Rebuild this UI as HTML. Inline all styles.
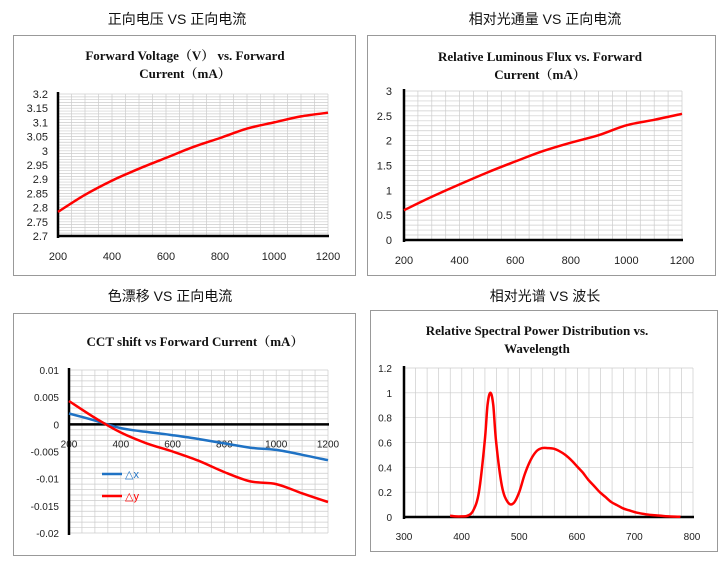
<!DOCTYPE html>
<html><head><meta charset="utf-8">
<style>
body{margin:0;background:#fff;width:728px;height:567px;overflow:hidden;font-family:"Liberation Sans","Noto Sans CJK SC",sans-serif}
svg{display:block}
</style></head>
<body>
<svg id="svg" width="728" height="567" xmlns="http://www.w3.org/2000/svg"></svg>
<script>
// ---- data ----
const vI=[200,300,400,500,600,700,800,900,1000,1100,1200];
const vV=[2.785,2.845,2.895,2.937,2.975,3.013,3.045,3.078,3.100,3.121,3.134];
const fI=[200,300,400,500,600,700,800,900,1000,1100,1200];
const fF=[0.6,0.87,1.12,1.36,1.58,1.79,1.96,2.11,2.31,2.42,2.54];
const cI=[200,300,400,500,600,700,800,900,1000,1100,1200];
const cDx=[0.002,0.0007,-0.0007,-0.0014,-0.002,-0.0027,-0.0035,-0.0043,-0.0047,-0.0056,-0.0066];
const cDy=[0.0043,0.0012,-0.0015,-0.0035,-0.005,-0.0067,-0.0088,-0.0105,-0.011,-0.0127,-0.0143];
const sW=[380,390,400,410,420,430,440,445,450,455,460,470,480,490,500,510,520,530,540,550,560,570,580,590,600,610,620,630,640,650,660,670,680,690,700,710,720,730,740,750,760,770,780];
const sP=[0.01,0.005,0.005,0.01,0.05,0.2,0.6,0.9,1.0,0.9,0.6,0.25,0.12,0.11,0.2,0.35,0.46,0.53,0.555,0.555,0.55,0.53,0.5,0.46,0.41,0.36,0.3,0.25,0.2,0.16,0.12,0.095,0.07,0.055,0.04,0.03,0.022,0.016,0.012,0.008,0.005,0.003,0.002];
const t1Y=[2.7,2.75,2.8,2.85,2.9,2.95,3,3.05,3.1,3.15,3.2];
const t1X=[200,400,600,800,1000,1200];
const t2Y=[0,0.5,1,1.5,2,2.5,3];
const t3Y=[-0.02,-0.015,-0.01,-0.005,0,0.005,0.01];
const t4Y=[0,0.2,0.4,0.6,0.8,1,1.2];
const t4X=[300,400,500,600,700,800];

const S=document.getElementById('svg');
const NS='http://www.w3.org/2000/svg';
function el(tag,attrs,txt){const e=document.createElementNS(NS,tag);for(const k in attrs)e.setAttribute(k,attrs[k]);if(txt!==undefined)e.textContent=txt;S.appendChild(e);return e;}
function lin(d0,d1,r0,r1){return v=>r0+(v-d0)/(d1-d0)*(r1-r0);}
function smooth(pts){let d='M'+pts[0][0].toFixed(1)+','+pts[0][1].toFixed(1);
for(let i=0;i<pts.length-1;i++){const p0=pts[Math.max(0,i-1)],p1=pts[i],p2=pts[i+1],p3=pts[Math.min(pts.length-1,i+2)];
const c1=[p1[0]+(p2[0]-p0[0])/6,p1[1]+(p2[1]-p0[1])/6],c2=[p2[0]-(p3[0]-p1[0])/6,p2[1]-(p3[1]-p1[1])/6];
d+=' C'+c1[0].toFixed(1)+','+c1[1].toFixed(1)+' '+c2[0].toFixed(1)+','+c2[1].toFixed(1)+' '+p2[0].toFixed(1)+','+p2[1].toFixed(1);}return d;}
function txt(x,y,s,opt){const e=el('text',Object.assign({x:x,y:y,'font-size':11,fill:'#222','font-family':'Liberation Sans, sans-serif'},opt||{}),s);return e;}

const panels=[[13,35,342,240],[367,35,348,240],[13,313,342,242],[370,310,347,241]];
const heads=[[177,'正向电压 VS 正向电流'],[545,'相对光通量 VS 正向电流'],[170,'色漂移 VS 正向电流'],[545,'相对光谱 VS 波长']];
panels.forEach((p,i)=>{const r=el('rect',{x:p[0]+.5,y:p[1]+.5,width:p[2],height:p[3],fill:'#fff',stroke:'#999','stroke-width':1});

});
heads.forEach((h,i)=>{const t=txt(h[0],i<2?24:301,h[1],{'font-size':14,'text-anchor':'middle','font-family':'Liberation Sans, Noto Sans CJK SC, sans-serif',fill:'#111'});

});

function grid(L,R,T,B,nx,ny){for(let i=0;i<=nx;i++){const x=L+(R-L)*i/nx;el('line',{x1:x,x2:x,y1:T,y2:B,stroke:'#ccc','stroke-width':0.7});}
for(let j=0;j<=ny;j++){const y=T+(B-T)*j/ny;el('line',{x1:L,x2:R,y1:y,y2:y,stroke:'#ccc','stroke-width':0.7});}}
function title(cx,y1,l1,l2){const a=txt(cx,y1,l1,{'font-size':13,'font-weight':'bold','text-anchor':'middle','font-family':'Liberation Serif, Noto Serif CJK SC, serif',fill:'#111'});


if(l2){const b=txt(cx,y1+18,l2,{'font-size':13,'font-weight':'bold','text-anchor':'middle','font-family':'Liberation Serif, Noto Serif CJK SC, serif',fill:'#111'});

}}
function axes(L,R,T,B,y0){el('line',{x1:L,x2:L,y1:T-2,y2:B+2,stroke:'#000','stroke-width':2.5});el('line',{x1:L,x2:R+1,y1:y0,y2:y0,stroke:'#000','stroke-width':2.5});}
function series(xs,ys,X,Y,color,name){const p=el('path',{d:smooth(xs.map((v,i)=>[X(v),Y(ys[i])])),fill:'none',stroke:color,'stroke-width':2.5,'stroke-linejoin':'round'});

}

// Chart 1
{const L=58,R=328,T=94,B=236;const X=lin(200,1200,L,R),Y=lin(2.7,3.2,B,T);
grid(L,R,T,B,20,50);title(185,60,'Forward Voltage（V） vs. Forward','Current（mA）');
t1Y.forEach(v=>{const t=txt(L-10,Y(v)+4,String(v),{'text-anchor':'end'});});
t1X.forEach(v=>{const t=txt(X(v),260,String(v),{'text-anchor':'middle'});});
axes(L,R,T,B,B);series(vI,vV,X,Y,'#f00','voltage-line');}
// Chart 2
{const L=404,R=682,T=91,B=240;const X=lin(200,1200,L,R),Y=lin(0,3,B,T);
grid(L,R,T,B,20,30);title(540,61,'Relative Luminous Flux vs. Forward','Current（mA）');
t2Y.forEach(v=>{const t=txt(L-12,Y(v)+4,String(v),{'text-anchor':'end'});});
t1X.forEach(v=>{const t=txt(X(v),264,String(v),{'text-anchor':'middle'});});
axes(L,R,T,B,B);series(fI,fF,X,Y,'#f00','flux-line');}
// Chart 3
{const L=69,R=328,T=370,B=533;const X=lin(200,1200,L,R),Y=lin(-0.02,0.01,B,T);
grid(L,R,T,B,20,30);title(195,346,'CCT shift vs Forward Current（mA）');
t3Y.forEach(v=>{const t=txt(L-10,Y(v)+4,String(v),{'text-anchor':'end','font-size':10});});
t1X.forEach(v=>{const t=txt(X(v),Y(0)+23,String(v),{'text-anchor':'middle','font-size':10});});
axes(L,R,T,B,Y(0));series(cI,cDx,X,Y,'#1f72c4','delta-x-line');series(cI,cDy,X,Y,'#f00','delta-y-line');
const l1=el('line',{x1:102,x2:122,y1:474,y2:474,stroke:'#1f72c4','stroke-width':2.5});
const a=txt(125,478,'△x',{'font-size':11,fill:'#1f72c4'});
const l2=el('line',{x1:102,x2:122,y1:496,y2:496,stroke:'#f00','stroke-width':2.5});
const b=txt(125,500,'△y',{'font-size':11,fill:'#f00'});}
// Chart 4
{const L=404,R=693,T=368,B=517;const X=lin(300,800,404,692),Y=lin(0,1.2,B,T);
grid(L,R,T,B,25,6);title(537,335,'Relative Spectral Power Distribution vs.','Wavelength');
t4Y.forEach(v=>{const t=txt(L-12,Y(v)+4,String(v),{'text-anchor':'end','font-size':10});});
t4X.forEach(v=>{const t=txt(X(v),540,String(v),{'text-anchor':'middle','font-size':10});});
axes(L,R,T,B,B);series(sW,sP,X,Y,'#f00','spectrum-line');}
</script>
</body></html>
